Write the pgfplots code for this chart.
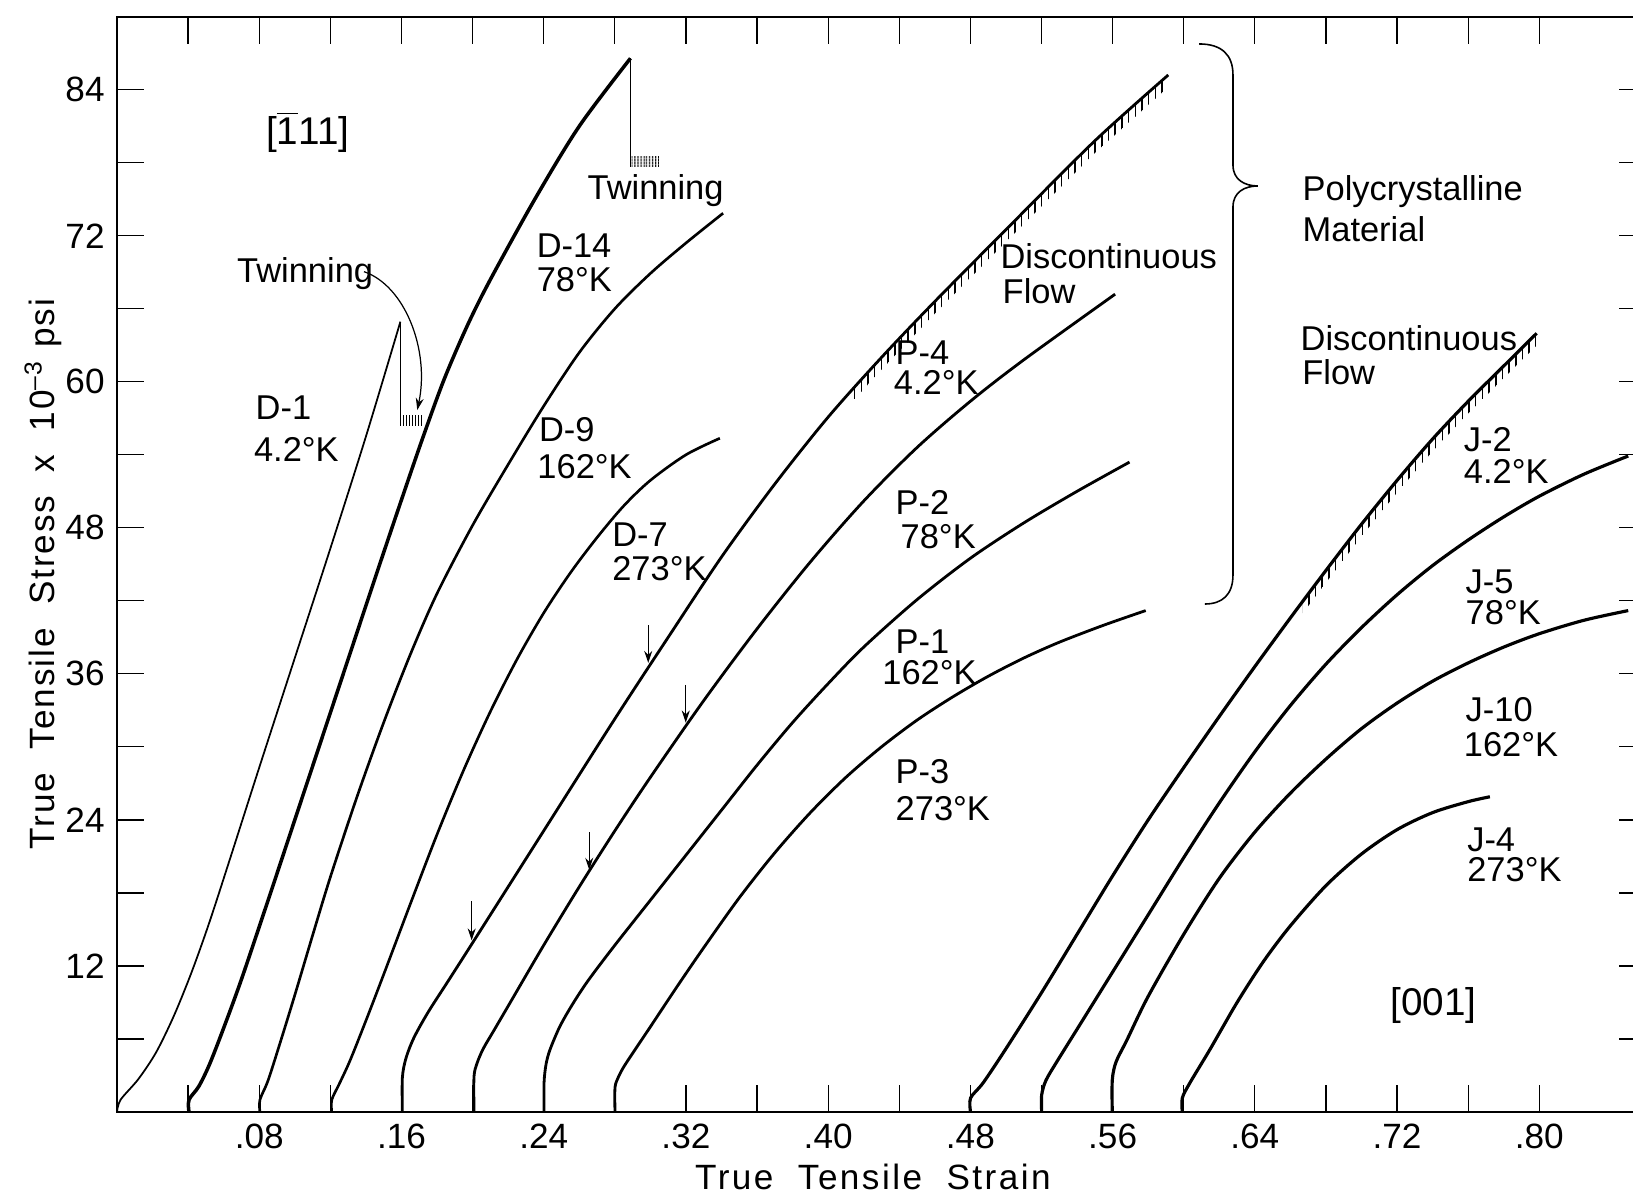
\documentclass[border=0pt]{standalone}
\usepackage{fontspec}
\setmainfont{Liberation Sans}
\usepackage{pgfplots}
\pgfplotsset{compat=1.18}
\usetikzlibrary{arrows.meta,patterns.meta}
\newcommand\lab{\fontsize{9.8}{11}\selectfont}
\newcommand\blab{\fontsize{11}{13}\selectfont}
\tikzset{hatch/.style={draw=none, pattern={Lines[angle=90, distance=#1, line width=0.4pt]}, pattern color=black}}
\begin{document}
\begin{tikzpicture}
\begin{axis}[
  at={(0,0)}, anchor=south west,
  scale only axis, width=152.9mm, height=109.53mm,
  xmin=0, xmax=0.86, ymin=0, ymax=90,
  clip=false,
  axis line style={line width=0.5pt},
  xtick={0.08,0.16,0.24,0.32,0.40,0.48,0.56,0.64,0.72,0.80},
  xticklabels={.08,.16,.24,.32,.40,.48,.56,.64,.72,.80},
  minor xtick={0.04,0.12,0.20,0.28,0.36,0.44,0.52,0.60,0.68,0.76},
  ytick={12,24,36,48,60,72,84},
  minor ytick={6,18,30,42,54,66,78},
  major tick length=2.7mm, minor tick length=2.7mm,
  tick style={line width=0.35pt, black},
  tick label style={font=\fontsize{10}{12}\selectfont},
  /pgf/number format/assume math mode=true,
]
% ---------- [-111] group ----------
% D-1, 4.2 K
\addplot[line width=0.5pt, smooth] coordinates {(0,0) (0.002,1.0) (0.012,2.7) (0.022,4.9) (0.032,7.9) (0.042,11.5) (0.052,15.6) (0.064,21.0) (0.080,28.3) (0.100,37.3) (0.120,46.3) (0.140,55.5) (0.1594,64.94)};
\addplot[line width=0.5pt] coordinates {(0.1594,64.94) (0.1594,56.4)};
\addplot[hatch=0.85pt] coordinates {(0.1597,56.4) (0.1718,56.4) (0.1718,57.2) (0.1597,57.2)};
% D-14, 78 K
\addplot[line width=1.0pt, smooth] coordinates {(0.0405,0) (0.0405,1.0) (0.046,2.1) (0.052,3.9) (0.060,6.9) (0.070,10.9) (0.085,17.4) (0.100,24.0) (0.115,30.6) (0.130,37.2) (0.145,43.8) (0.160,50.3) (0.172,55.4) (0.184,60.2) (0.197,64.6) (0.210,68.4) (0.235,75.0) (0.260,81.0) (0.2888,86.58)};
\addplot[line width=0.5pt] coordinates {(0.2888,86.58) (0.2888,77.65)};
\addplot[hatch=0.9pt] coordinates {(0.2894,77.65) (0.3048,77.65) (0.3048,78.5) (0.2894,78.5)};
% D-9, 162 K
\addplot[line width=0.75pt, smooth] coordinates {(0.0804,0) (0.0804,1.0) (0.085,2.6) (0.092,5.8) (0.100,9.6) (0.110,14.5) (0.120,19.3) (0.135,25.9) (0.150,32.0) (0.165,37.6) (0.180,42.6) (0.200,48.2) (0.220,53.2) (0.240,58.0) (0.260,62.4) (0.280,66.0) (0.300,68.9) (0.320,71.4) (0.3409,73.85)};
% D-7, 273 K
\addplot[line width=0.75pt, smooth] coordinates {(0.1208,0) (0.1208,1.0) (0.125,2.3) (0.131,4.2) (0.140,7.5) (0.150,11.3) (0.165,17.1) (0.180,22.8) (0.195,28.1) (0.210,32.9) (0.225,37.2) (0.240,41.0) (0.255,44.3) (0.270,47.2) (0.285,49.8) (0.300,51.9) (0.320,54.0) (0.3391,55.36)};

% ---------- polycrystalline group ----------
% P-4, 4.2 K
\addplot[line width=0.8pt, smooth] coordinates {(0.1605,0) (0.1605,2.8) (0.1625,4.4) (0.167,6.1) (0.175,8.2) (0.186,10.7) (0.200,13.9) (0.240,23.1) (0.280,32.3) (0.310,39.0) (0.340,45.6) (0.370,51.6) (0.400,57.1) (0.430,62.0) (0.460,66.6) (0.500,72.5) (0.550,79.8) (0.5913,85.21)};
\addplot[hatch=1.9pt] coordinates {(0.4141,59.45) (0.430,62.0) (0.460,66.6) (0.500,72.5) (0.550,79.8) (0.5913,85.21) (0.5913,84.21) (0.550,78.8) (0.500,71.5) (0.460,65.6) (0.430,61.0) (0.4141,58.45)};
% P-2, 78 K
\addplot[line width=0.8pt, smooth] coordinates {(0.2008,0) (0.2008,2.9) (0.2025,4.0) (0.206,5.2) (0.212,6.7) (0.220,8.7) (0.240,13.7) (0.260,18.5) (0.280,23.1) (0.300,27.5) (0.330,33.8) (0.360,39.7) (0.390,45.2) (0.420,50.2) (0.450,54.6) (0.480,58.4) (0.510,61.8) (0.5614,67.2)};
% P-1, 162 K
\addplot[line width=0.8pt, smooth] coordinates {(0.2402,0) (0.2402,2.4) (0.2413,3.9) (0.2435,5.1) (0.249,7.0) (0.256,8.8) (0.265,10.8) (0.280,13.7) (0.300,17.4) (0.320,21.1) (0.340,24.8) (0.360,28.5) (0.380,32.0) (0.400,35.2) (0.420,38.2) (0.450,42.1) (0.480,45.5) (0.510,48.4) (0.540,51.0) (0.5695,53.4)};
% P-3, 273 K
\addplot[line width=0.8pt, smooth] coordinates {(0.2801,0) (0.2801,2.0) (0.2818,2.8) (0.2846,3.6) (0.289,4.6) (0.300,7.0) (0.315,10.3) (0.330,13.5) (0.350,17.6) (0.370,21.3) (0.390,24.6) (0.410,27.5) (0.430,30.0) (0.450,32.2) (0.470,34.1) (0.490,35.8) (0.510,37.3) (0.530,38.6) (0.555,40.0) (0.5786,41.2)};

% ---------- [001] group ----------
% J-2, 4.2 K
\addplot[line width=0.9pt, smooth] coordinates {(0.4801,0) (0.4801,1.15) (0.4872,2.4) (0.500,5.2) (0.520,9.8) (0.540,14.6) (0.560,19.4) (0.580,24.0) (0.600,28.3) (0.620,32.5) (0.640,36.6) (0.660,40.6) (0.680,44.5) (0.700,48.3) (0.720,51.9) (0.740,55.3) (0.760,58.4) (0.780,61.3) (0.7985,63.98)};
\addplot[hatch=1.9pt] coordinates {(0.667,42.0) (0.680,44.5) (0.700,48.3) (0.720,51.9) (0.740,55.3) (0.760,58.4) (0.780,61.3) (0.7985,63.98) (0.7985,62.98) (0.780,60.3) (0.760,57.4) (0.740,54.3) (0.720,50.9) (0.700,47.3) (0.680,43.5) (0.667,41.0)};
% J-5, 78 K
\addplot[line width=0.9pt, smooth] coordinates {(0.5201,0) (0.5201,1.4) (0.5225,2.6) (0.5285,4.1) (0.540,6.8) (0.560,11.5) (0.580,16.2) (0.600,20.9) (0.620,25.4) (0.640,29.6) (0.660,33.4) (0.680,36.8) (0.700,39.8) (0.720,42.5) (0.740,44.9) (0.760,47.0) (0.780,48.9) (0.800,50.6) (0.825,52.4) (0.850,53.9)};
% J-10, 162 K
\addplot[line width=0.9pt, smooth] coordinates {(0.5598,0) (0.5598,2.6) (0.5619,4.1) (0.568,5.9) (0.580,9.5) (0.600,14.6) (0.620,19.2) (0.640,23.0) (0.660,26.2) (0.680,29.0) (0.700,31.5) (0.720,33.6) (0.740,35.4) (0.760,36.9) (0.780,38.2) (0.800,39.3) (0.825,40.4) (0.850,41.2)};
% J-4, 273 K
\addplot[line width=0.9pt, smooth] coordinates {(0.5992,0) (0.5992,1.15) (0.6035,2.4) (0.615,5.2) (0.630,9.0) (0.645,12.4) (0.660,15.3) (0.680,18.6) (0.700,21.2) (0.720,23.2) (0.740,24.6) (0.760,25.5) (0.7722,25.9)};

% ---------- arrows ----------
\draw[line width=0.35pt, -{Stealth[length=1.2mm,width=0.8mm]}] (axis cs:0.2988,40.0) -- (axis cs:0.2988,36.9);
\draw[line width=0.35pt, -{Stealth[length=1.2mm,width=0.8mm]}] (axis cs:0.3199,35.1) -- (axis cs:0.3199,32.0);
\draw[line width=0.35pt, -{Stealth[length=1.2mm,width=0.8mm]}] (axis cs:0.2656,23.0) -- (axis cs:0.2656,19.9);
\draw[line width=0.35pt, -{Stealth[length=1.2mm,width=0.8mm]}] (axis cs:0.1995,17.3) -- (axis cs:0.1995,14.1);
\draw[line width=0.35pt, -{Stealth[length=1.2mm,width=0.8mm]}] (axis cs:0.1389,69.05) .. controls (axis cs:0.1620,67.9) and (axis cs:0.1760,62.6) .. (axis cs:0.1689,57.68);

% ---------- brace ----------
\draw[line width=0.45pt] (axis cs:0.6086,87.76) .. controls (axis cs:0.6215,87.76) and (axis cs:0.6277,86.85) .. (axis cs:0.6277,85.21) -- (axis cs:0.6277,77.81) .. controls (axis cs:0.6277,76.58) and (axis cs:0.6344,76.09) .. (axis cs:0.6417,76.09) .. controls (axis cs:0.6344,76.09) and (axis cs:0.6277,75.60) .. (axis cs:0.6277,74.36) -- (axis cs:0.6277,44.13) .. controls (axis cs:0.6277,42.48) and (axis cs:0.6215,41.74) .. (axis cs:0.6119,41.74);

% ---------- labels ----------
\begin{scope}[every node/.style={inner sep=0pt, anchor=base west, font=\lab}]
\node[font=\blab] at (axis cs:0.0835,79.46) {[\(\overline{\mbox{1}}\)11]};
\node[font=\blab] at (axis cs:0.7160,7.89) {[001]};
\node at (axis cs:0.0672,68.12) {Twinning};
\node at (axis cs:0.2643,74.94) {Twinning};
\node at (axis cs:0.0776,56.86) {D-1};
\node at (axis cs:0.0767,53.43) {4.2°K};
\node at (axis cs:0.2357,70.25) {D-14};
\node at (axis cs:0.2357,67.40) {78°K};
\node at (axis cs:0.2370,55.08) {D-9};
\node at (axis cs:0.2361,52.07) {162°K};
\node at (axis cs:0.2782,46.45) {D-7};
\node at (axis cs:0.2782,43.71) {273°K};
\node at (axis cs:0.4376,61.38) {P-4};
\node at (axis cs:0.4366,58.92) {4.2°K};
\node at (axis cs:0.4376,49.06) {P-2};
\node at (axis cs:0.4404,46.32) {78°K};
\node at (axis cs:0.4376,37.69) {P-1};
\node at (axis cs:0.4301,35.09) {162°K};
\node at (axis cs:0.4376,27.01) {P-3};
\node at (axis cs:0.4376,23.99) {273°K};
\node at (axis cs:0.4966,69.33) {Discontinuous};
\node at (axis cs:0.4978,66.45) {Flow};
\node at (axis cs:0.6665,74.86) {Polycrystalline};
\node at (axis cs:0.6665,71.52) {Material};
\node at (axis cs:0.6654,62.53) {Discontinuous};
\node at (axis cs:0.6663,59.74) {Flow};
\node at (axis cs:0.7572,54.26) {J-2};
\node at (axis cs:0.7572,51.66) {4.2°K};
\node at (axis cs:0.7582,42.62) {J-5};
\node at (axis cs:0.7582,40.02) {78°K};
\node at (axis cs:0.7582,32.07) {J-10};
\node at (axis cs:0.7572,29.19) {162°K};
\node at (axis cs:0.7591,21.39) {J-4};
\node at (axis cs:0.7591,18.92) {273°K};
\end{scope}
\node[rotate=90, anchor=center, inner sep=0pt, font=\fontsize{10}{12}\selectfont\addfontfeature{LetterSpace=5.5}] at (rel axis cs:-0.0484,0.491) {True\ \ Tensile\ \ Stress\ \ x\ \ 10\textsuperscript{–3}\ psi};
\node[anchor=center, inner sep=0pt, font=\fontsize{10}{12}\selectfont\addfontfeature{LetterSpace=7}] at (rel axis cs:0.4944,-0.0593) {True\ \ Tensile\ \ Strain};
\end{axis}
\pgfresetboundingbox
\path[use as bounding box] (-11.7mm,-8.1mm) rectangle (151.6mm,111.2mm);
\end{tikzpicture}
\end{document}
